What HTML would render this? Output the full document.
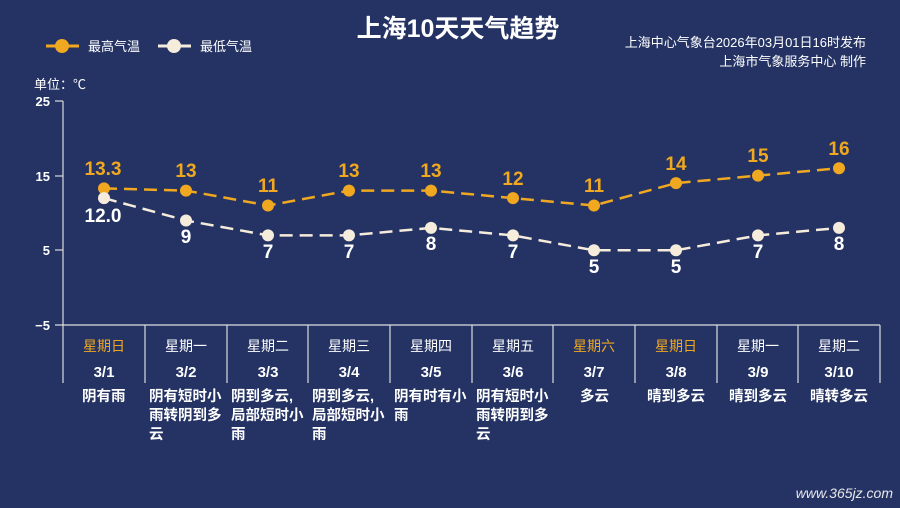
<!DOCTYPE html>
<html><head><meta charset="utf-8"><style>
html,body{margin:0;padding:0;background:#243364;}
svg{display:block;}
text{font-family:"Liberation Sans","Noto Sans CJK SC",sans-serif;}
</style></head><body>
<svg width="900" height="508" viewBox="0 0 900 508" xmlns="http://www.w3.org/2000/svg">
<rect width="900" height="508" fill="#243364"/>
<text x="458" y="37" fill="#fff" font-size="25" font-weight="bold" text-anchor="middle">上海10天天气趋势</text>
<text x="866" y="47" fill="#fff" font-size="13" text-anchor="end">上海中心气象台2026年03月01日16时发布</text>
<text x="866" y="66" fill="#fff" font-size="13" text-anchor="end">上海市气象服务中心 制作</text>
<line x1="46" y1="46" x2="79" y2="46" stroke="#f0a820" stroke-width="3"/>
<circle cx="62" cy="46" r="7" fill="#f0a820"/>
<text x="88" y="51" fill="#fff" font-size="13">最高气温</text>
<line x1="158" y1="46" x2="191" y2="46" stroke="#f6ecdc" stroke-width="3"/>
<circle cx="174" cy="46" r="7" fill="#f6ecdc"/>
<text x="200" y="51" fill="#fff" font-size="13">最低气温</text>
<text x="34" y="89" fill="#fff" font-size="13">单位：℃</text>
<g fill="#fff" font-size="13" font-weight="bold" text-anchor="end">
<text x="50" y="106">25</text><text x="50" y="181">15</text><text x="50" y="255">5</text><text x="50" y="330">−5</text>
</g>
<g stroke="#ddd" stroke-width="1.2">
<line x1="55" y1="101" x2="63" y2="101"/><line x1="55" y1="176" x2="63" y2="176"/><line x1="55" y1="250" x2="63" y2="250"/><line x1="55" y1="325" x2="880" y2="325"/>
<line x1="63" y1="101" x2="63" y2="383"/>
<line x1="145" y1="325" x2="145" y2="383"/><line x1="227" y1="325" x2="227" y2="383"/><line x1="308" y1="325" x2="308" y2="383"/><line x1="390" y1="325" x2="390" y2="383"/><line x1="472" y1="325" x2="472" y2="383"/><line x1="553" y1="325" x2="553" y2="383"/><line x1="635" y1="325" x2="635" y2="383"/><line x1="717" y1="325" x2="717" y2="383"/><line x1="798" y1="325" x2="798" y2="383"/><line x1="880" y1="325" x2="880" y2="383"/>
</g>
<polyline fill="none" stroke="#f0a820" stroke-width="2.5" stroke-dasharray="13,7" points="104,188.4 186,190.6 268,205.5 349,190.6 431,190.6 513,198.1 594,205.5 676,183.1 758,175.6 839,168.2"/>
<polyline fill="none" stroke="#f6ecdc" stroke-width="2.5" stroke-dasharray="13,7" points="104,198.1 186,220.5 268,235.4 349,235.4 431,227.9 513,235.4 594,250.3 676,250.3 758,235.4 839,227.9"/>
<g fill="#f0a820">
<circle cx="104" cy="188.4" r="6"/><circle cx="186" cy="190.6" r="6"/><circle cx="268" cy="205.5" r="6"/><circle cx="349" cy="190.6" r="6"/><circle cx="431" cy="190.6" r="6"/><circle cx="513" cy="198.1" r="6"/><circle cx="594" cy="205.5" r="6"/><circle cx="676" cy="183.1" r="6"/><circle cx="758" cy="175.6" r="6"/><circle cx="839" cy="168.2" r="6"/>
</g>
<g fill="#f6ecdc">
<circle cx="104" cy="198.1" r="6"/><circle cx="186" cy="220.5" r="6"/><circle cx="268" cy="235.4" r="6"/><circle cx="349" cy="235.4" r="6"/><circle cx="431" cy="227.9" r="6"/><circle cx="513" cy="235.4" r="6"/><circle cx="594" cy="250.3" r="6"/><circle cx="676" cy="250.3" r="6"/><circle cx="758" cy="235.4" r="6"/><circle cx="839" cy="227.9" r="6"/>
</g>
<g fill="#f0a820" font-size="19" font-weight="bold" text-anchor="middle">
<text x="103" y="175">13.3</text><text x="186" y="177">13</text><text x="268" y="192">11</text><text x="349" y="177">13</text><text x="431" y="177">13</text><text x="513" y="185">12</text><text x="594" y="192">11</text><text x="676" y="170">14</text><text x="758" y="162">15</text><text x="839" y="155">16</text>
</g>
<g fill="#fff" font-size="19" font-weight="bold" text-anchor="middle">
<text x="103" y="222">12.0</text><text x="186" y="243">9</text><text x="268" y="258">7</text><text x="349" y="258">7</text><text x="431" y="250">8</text><text x="513" y="258">7</text><text x="594" y="273">5</text><text x="676" y="273">5</text><text x="758" y="258">7</text><text x="839" y="250">8</text>
</g>
<g font-size="14" text-anchor="middle" fill="#fff">
<text x="104" y="351" fill="#f0a820">星期日</text><text x="186" y="351">星期一</text><text x="268" y="351">星期二</text><text x="349" y="351">星期三</text><text x="431" y="351">星期四</text><text x="513" y="351">星期五</text><text x="594" y="351" fill="#f0a820">星期六</text><text x="676" y="351" fill="#f0a820">星期日</text><text x="758" y="351">星期一</text><text x="839" y="351">星期二</text>
</g>
<g font-size="15" font-weight="bold" text-anchor="middle" fill="#fff">
<text x="104" y="377">3/1</text><text x="186" y="377">3/2</text><text x="268" y="377">3/3</text><text x="349" y="377">3/4</text><text x="431" y="377">3/5</text><text x="513" y="377">3/6</text><text x="594" y="377">3/7</text><text x="676" y="377">3/8</text><text x="758" y="377">3/9</text><text x="839" y="377">3/10</text>
</g>
<g font-size="14.5" font-weight="bold" fill="#fff">
<text x="82" y="401">阴有雨</text>
<text x="149" y="401">阴有短时小</text><text x="149" y="420">雨转阴到多</text><text x="149" y="439">云</text>
<text x="231" y="401">阴到多云,</text><text x="231" y="420">局部短时小</text><text x="231" y="439">雨</text>
<text x="312" y="401">阴到多云,</text><text x="312" y="420">局部短时小</text><text x="312" y="439">雨</text>
<text x="394" y="401">阴有时有小</text><text x="394" y="420">雨</text>
<text x="476" y="401">阴有短时小</text><text x="476" y="420">雨转阴到多</text><text x="476" y="439">云</text>
<text x="580" y="401">多云</text>
<text x="647" y="401">晴到多云</text>
<text x="729" y="401">晴到多云</text>
<text x="810" y="401">晴转多云</text>
</g>
<text x="893" y="498" fill="#e8e8e8" font-size="14" font-style="italic" text-anchor="end">www.365jz.com</text>
</svg>
</body></html>
